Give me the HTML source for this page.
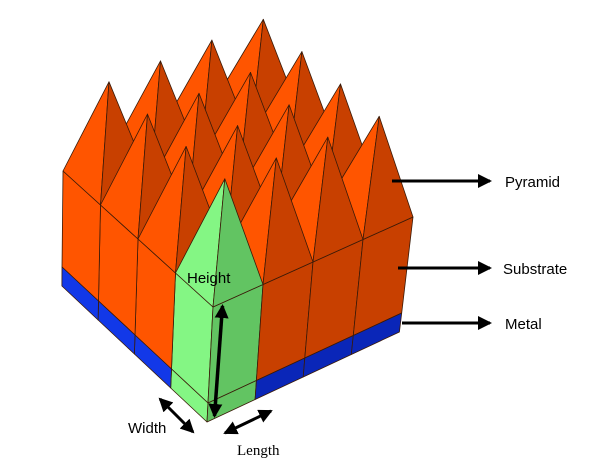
<!DOCTYPE html>
<html><head><meta charset="utf-8"><style>
html,body{margin:0;padding:0;background:#fff;width:598px;height:462px;overflow:hidden}
svg{display:block}
text{font-family:"Liberation Sans",sans-serif;fill:#000}
</style></head><body>
<svg id="s" width="598" height="462" viewBox="0 0 598 462">
<defs>
<marker id="ah2" markerWidth="14" markerHeight="14" refX="12" refY="7" orient="auto-start-reverse" markerUnits="userSpaceOnUse" viewBox="0 0 14 14"><path d="M0,0 L14,7 L0,14 z" fill="#000"/></marker>
</defs>
<g id="model"></g>
<g id="ann">
<line x1="392" y1="181" x2="490" y2="181" stroke="#000" stroke-width="3" marker-end="url(#ah2)"/>
<text x="505" y="187" font-size="15">Pyramid</text>
<line x1="398" y1="268" x2="490" y2="268" stroke="#000" stroke-width="3" marker-end="url(#ah2)"/>
<text x="503" y="274" font-size="15">Substrate</text>
<line x1="402" y1="323" x2="490" y2="323" stroke="#000" stroke-width="3" marker-end="url(#ah2)"/>
<text x="505" y="329" font-size="15">Metal</text>
<text x="187" y="283" font-size="15">Height</text>
<line x1="222.5" y1="306" x2="214.5" y2="416" stroke="#000" stroke-width="3.5" marker-start="url(#ah2)" marker-end="url(#ah2)"/>
<line x1="160" y1="399" x2="193" y2="432" stroke="#000" stroke-width="3" marker-start="url(#ah2)" marker-end="url(#ah2)"/>
<text x="128" y="433" font-size="15">Width</text>
<line x1="225" y1="433" x2="271" y2="411" stroke="#000" stroke-width="3" marker-start="url(#ah2)" marker-end="url(#ah2)"/>
<text x="237" y="455" font-size="15" style="font-family:'Liberation Serif',serif">Length</text>
</g>
</svg>
<script>
const gridN = 4;
const subDepth = 96;
const metalDepth = 19;
const NS = "http://www.w3.org/2000/svg";
const g = document.getElementById('model');
function P(a,b,z){const lean=0.052-0.0105*a+0.0165*b;return [213 - 37.5*a + 50*b + lean*z, 307 - 34*a - 22.5*b - z];}
function poly(pts, fill, name){
  const e=document.createElementNS(NS,'polygon');
  e.setAttribute('points',pts.map(p=>p[0].toFixed(1)+','+p[1].toFixed(1)).join(' '));
  e.setAttribute('fill',fill);e.setAttribute('stroke','#3a1a08');e.setAttribute('stroke-width','0.8');e.setAttribute('stroke-linejoin','round');
  
  
  g.appendChild(e);
}
const zS=-subDepth, zM=-(subDepth+metalDepth);
for(let i=0;i<gridN;i++){
  const green = i===0;
  poly([P(i,0,0),P(i+1,0,0),P(i+1,0,zS),P(i,0,zS)], green?'#84f684':'#ff5500','substrate-left-face');
  poly([P(i,0,zS),P(i+1,0,zS),P(i+1,0,zM),P(i,0,zM)], green?'#84f684':'#1238e8','metal-left-face');
  poly([P(0,i,0),P(0,i+1,0),P(0,i+1,zS),P(0,i,zS)], green?'#62c462':'#c84000','substrate-right-face');
  poly([P(0,i,zS),P(0,i+1,zS),P(0,i+1,zM),P(0,i,zM)], green?'#62c462':'#0a26b8','metal-right-face');
}
const cells=[];
for(let i=0;i<gridN;i++)for(let j=0;j<gridN;j++)cells.push([i,j]);
cells.sort((p,q)=>(q[0]+q[1])-(p[0]+p[1]) || (p[0]-q[0]));
for(const [i,j] of cells){
  const h = 100 - (10/6)*(i+j);
  const apex = P(i+0.5,j+0.5,h);
  const green = i===0 && j===0;
  poly([P(i,j,0),P(i+1,j,0),apex], green?'#84f684':'#ff5500','pyramid-left-face');
  poly([P(i,j,0),P(i,j+1,0),apex], green?'#62c462':'#c84000','pyramid-right-face');
}
</script>
</body></html>
